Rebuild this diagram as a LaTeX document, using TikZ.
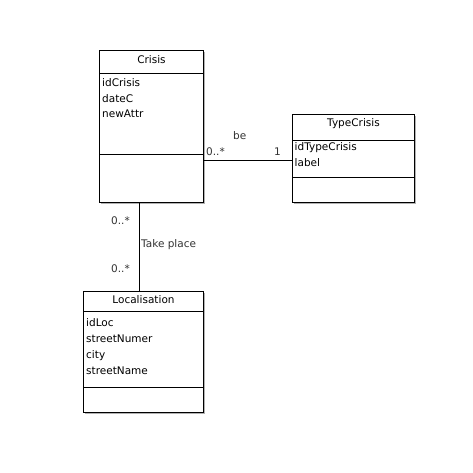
\documentclass[tikz,border=0pt]{standalone}
\usepackage{fontspec}
\setmainfont{DejaVu Sans}
\usetikzlibrary{shadows}
\begin{document}
\begin{tikzpicture}[x=1pt,y=-1pt,font=\fontsize{10.5}{12}\selectfont]
	\tikzstyle{cls} = [draw, line width=1pt, fill=white, shape=rectangle, inner sep=0pt, anchor=north west,
		drop shadow={shadow xshift=1.5pt, shadow yshift=-1.5pt, fill=black!30, opacity=1}]
	\tikzstyle{ttl} = [anchor=base, inner sep=0pt]
	\tikzstyle{att} = [anchor=base west, inner sep=0pt]
	\tikzstyle{lbl} = [anchor=base west, inner sep=0pt, text=black!80]
	\tikzstyle{sep} = [line width=1pt]
	\useasboundingbox[fill=white] (0,0) rectangle (473,472);

	\node[cls, minimum width=104pt, minimum height=152pt] (crisis) at (99,50) {};
	\node[ttl] (crisis-name) at ([yshift=-13pt]crisis.north) {Crisis};
	\draw[sep] ([yshift=-23pt]crisis.north west) -- ([yshift=-23pt]crisis.north east);
	\draw[sep] ([yshift=-104pt]crisis.north west) -- ([yshift=-104pt]crisis.north east);
	\node[att] (crisis-id) at ([xshift=3pt,yshift=-36.5pt]crisis.north west) {idCrisis};
	\node[att] (crisis-date) at ([yshift=-15.5pt]crisis-id.base west) {dateC};
	\node[att] (crisis-new) at ([yshift=-15.5pt]crisis-date.base west) {newAttr};

	\node[cls, minimum width=122pt, minimum height=88pt] (typecrisis) at (292,114) {};
	\node[ttl] (typecrisis-name) at ([yshift=-12.7pt]typecrisis.north) {TypeCrisis};
	\draw[sep] ([yshift=-26pt]typecrisis.north west) -- ([yshift=-26pt]typecrisis.north east);
	\draw[sep] ([yshift=-63.5pt]typecrisis.north west) -- ([yshift=-63.5pt]typecrisis.north east);
	\node[att] (typecrisis-id) at ([xshift=2.5pt,yshift=-36.7pt]typecrisis.north west) {idTypeCrisis};
	\node[att] (typecrisis-label) at ([yshift=-16pt]typecrisis-id.base west) {label};

	\node[cls, minimum width=120pt, minimum height=121pt] (localisation) at (83,291) {};
	\node[ttl] (localisation-name) at ([yshift=-12.3pt]localisation.north) {Localisation};
	\draw[sep] ([yshift=-20pt]localisation.north west) -- ([yshift=-20pt]localisation.north east);
	\draw[sep] ([yshift=-96.5pt]localisation.north west) -- ([yshift=-96.5pt]localisation.north east);
	\node[att] (localisation-id) at ([xshift=3pt,yshift=-35.5pt]localisation.north west) {idLoc};
	\node[att] (localisation-number) at ([yshift=-16pt]localisation-id.base west) {streetNumer};
	\node[att] (localisation-city) at ([yshift=-16pt]localisation-number.base west) {city};
	\node[att] (localisation-street) at ([yshift=-16pt]localisation-city.base west) {streetName};

	\coordinate (be-end) at ([yshift=-46pt]typecrisis.north west);
	\draw[sep] (be-end -| crisis.east) -- (be-end);
	\node[lbl] (be-name) at (233,139) {be};
	\node[lbl] (be-from) at (206,155) {0..*};
	\node[lbl] (be-to) at (274,155) {1};

	\draw[sep] ([xshift=40pt]crisis.south west) -- ([xshift=56pt]localisation.north west);
	\node[lbl] (place-from) at (111,224) {0..*};
	\node[lbl] (place-name) at (141,247) {Take place};
	\node[lbl] (place-to) at (111,272) {0..*};
\end{tikzpicture}
\end{document}
